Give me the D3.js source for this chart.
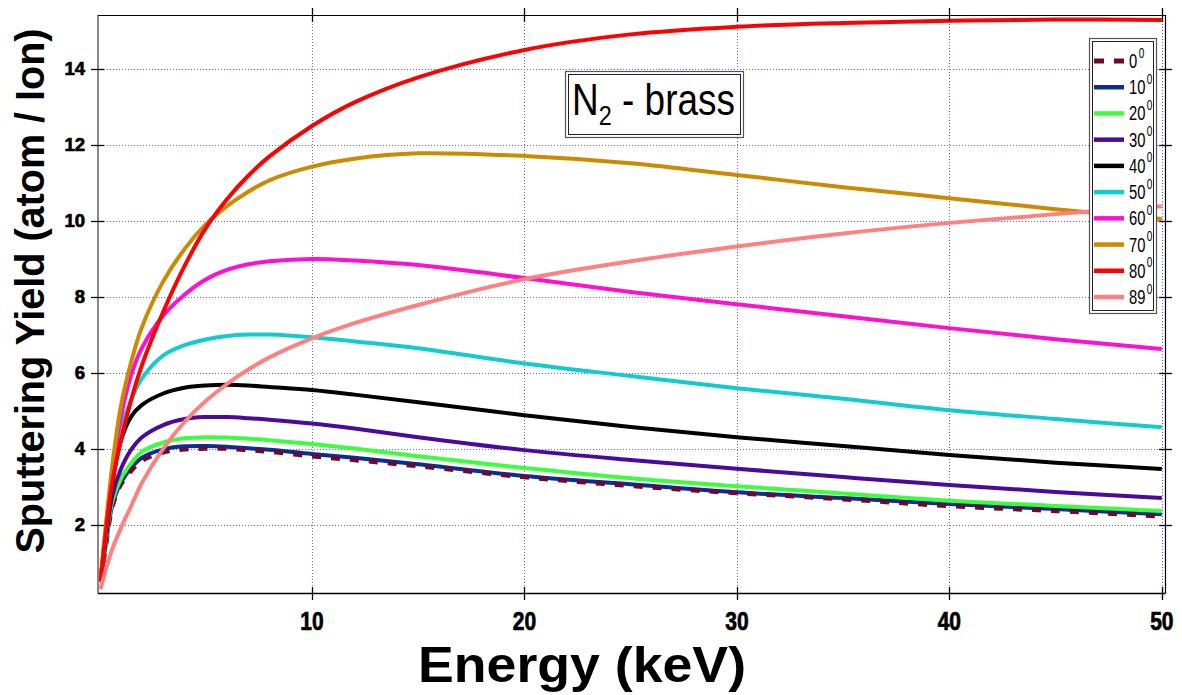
<!DOCTYPE html>
<html>
<head>
<meta charset="utf-8">
<script src="https://cdn.jsdelivr.net/npm/d3@7"></script>
<style>
  body { margin: 0; background: #fff; }
  svg { display: block; font-family: "Liberation Sans", Arial, sans-serif; }
</style>
</head>
<body>
<svg id="chart" width="1182" height="695"></svg>
<script>
// Ion energy (keV) sample points shared by every curve
const energy = [0.05, 0.3, 0.6, 1, 1.5, 2, 3, 4, 5, 6, 7, 8, 10, 12, 15, 20, 25, 30, 35, 40, 45, 50];

// Sputtering yield (atom / ion) for each angle of incidence
const yield0  = [0.50, 1.45, 2.45, 3.05, 3.42, 3.68, 3.90, 3.98, 4.00, 4.00, 3.96, 3.92, 3.80, 3.70, 3.54, 3.25, 3.02, 2.83, 2.67, 2.49, 2.36, 2.22];
const yield10 = [0.52, 1.50, 2.50, 3.10, 3.50, 3.76, 3.98, 4.06, 4.07, 4.05, 4.01, 3.97, 3.86, 3.76, 3.59, 3.28, 3.06, 2.85, 2.70, 2.54, 2.41, 2.27];
const yield20 = [0.55, 1.55, 2.60, 3.20, 3.62, 3.92, 4.16, 4.27, 4.30, 4.29, 4.26, 4.22, 4.12, 4.00, 3.80, 3.49, 3.22, 3.01, 2.82, 2.63, 2.49, 2.36];
const yield30 = [0.55, 1.60, 2.75, 3.45, 3.98, 4.30, 4.62, 4.78, 4.83, 4.83, 4.80, 4.76, 4.66, 4.53, 4.30, 3.96, 3.70, 3.47, 3.25, 3.04, 2.86, 2.70];
const yield40 = [0.55, 1.70, 3.05, 4.20, 4.85, 5.15, 5.45, 5.60, 5.66, 5.68, 5.66, 5.62, 5.54, 5.42, 5.22, 4.88, 4.57, 4.30, 4.07, 3.83, 3.63, 3.46];
const yield50 = [0.55, 1.80, 3.30, 4.50, 5.30, 5.85, 6.45, 6.72, 6.87, 6.96, 7.00, 7.00, 6.93, 6.82, 6.64, 6.24, 5.91, 5.59, 5.31, 5.01, 4.78, 4.56];
const yield60 = [0.55, 1.90, 3.40, 4.80, 5.95, 6.65, 7.50, 8.05, 8.45, 8.70, 8.85, 8.93, 8.99, 8.95, 8.83, 8.49, 8.12, 7.80, 7.48, 7.17, 6.88, 6.62];
const yield70 = [0.55, 2.00, 3.55, 5.10, 6.30, 7.20, 8.40, 9.25, 9.90, 10.38, 10.76, 11.06, 11.42, 11.63, 11.77, 11.70, 11.51, 11.20, 10.88, 10.59, 10.30, 10.04];
const yield80 = [0.50, 1.80, 3.10, 4.20, 5.30, 6.20, 7.60, 8.80, 9.80, 10.56, 11.18, 11.69, 12.49, 13.11, 13.77, 14.49, 14.90, 15.10, 15.20, 15.26, 15.29, 15.28];
const yield89 = [0.30, 0.82, 1.35, 1.90, 2.50, 3.10, 4.00, 4.70, 5.25, 5.70, 6.08, 6.40, 6.90, 7.30, 7.78, 8.46, 8.93, 9.32, 9.66, 9.94, 10.17, 10.38];

const angles = [0, 10, 20, 30, 40, 50, 60, 70, 80, 89];
const yields = [yield0, yield10, yield20, yield30, yield40, yield50, yield60, yield70, yield80, yield89];
const colors = ["#6a0a32", "#0a2d96", "#3cff3c", "#4a0a9c", "#000000", "#11cccc", "#ff10d0", "#cc8a00", "#ff0000", "#ff8080"];

const xTicks = [10, 20, 30, 40, 50];
const yTicks = [2, 4, 6, 8, 10, 12, 14];

const titleMain = "N";
const titleSub = "2";
const titleRest = " - brass";
const xTitle = "Energy (keV)";
const yTitle = "Sputtering Yield (atom / Ion)";

// ---- layout ----
const plot = { left: 98, right: 1165, top: 15, bottom: 593 };
const svg = d3.select("#chart");

const x = d3.scaleLinear().domain([-0.07, 50.15]).range([plot.left, plot.right]);
const y = d3.scaleLinear().domain([0.2, 15.41]).range([plot.bottom, plot.top]);

// ---- grid ----
const grid = svg.append("g").attr("stroke", "#5050ff").attr("stroke-width", 1)
  .attr("stroke-dasharray", "1,2").attr("opacity", 0.9);
grid.selectAll("line.v").data(xTicks).join("line").attr("class", "v")
  .attr("x1", d => Math.round(x(d)) + 0.5).attr("x2", d => Math.round(x(d)) + 0.5)
  .attr("y1", plot.top).attr("y2", plot.bottom);
grid.selectAll("line.h").data(yTicks).join("line").attr("class", "h")
  .attr("y1", d => Math.round(y(d)) + 0.5).attr("y2", d => Math.round(y(d)) + 0.5)
  .attr("x1", plot.left).attr("x2", plot.right);

// ---- curves ----
svg.append("clipPath").attr("id", "plotClip").append("rect")
  .attr("x", plot.left).attr("y", plot.top)
  .attr("width", plot.right - plot.left).attr("height", plot.bottom - plot.top);

const series = angles.map((a, i) => ({
  angle: a,
  color: colors[i],
  dashed: a === 0,
  points: energy.map((e, j) => [e, yields[i][j]])
}));

// the dashed normal-incidence curve sits just above the 10° curve
const drawOrder = [1, 0, 2, 3, 4, 5, 6, 7, 8, 9].map(i => series[i]);

const line = d3.line().x(d => x(d[0])).y(d => y(d[1])).curve(d3.curveCatmullRom.alpha(0.5));

svg.append("g").attr("clip-path", "url(#plotClip)")
  .selectAll("path").data(drawOrder).join("path")
  .attr("d", d => line(d.points))
  .attr("fill", "none")
  .attr("stroke", d => d.color)
  .attr("stroke-width", d => d.dashed ? 4.5 : 4)
  .attr("stroke-dasharray", d => d.dashed ? "9,10" : null);

// ---- frame ----
const frame = svg.append("g");
frame.append("line").attr("x1", plot.left).attr("x2", plot.left).attr("y1", plot.top).attr("y2", plot.bottom + 0.5)
  .attr("stroke", "#888").attr("stroke-width", 2);
frame.append("line").attr("x1", plot.left).attr("x2", plot.right + 0.5).attr("y1", plot.top + 0.5).attr("y2", plot.top + 0.5)
  .attr("stroke", "#000").attr("stroke-width", 1.2);
frame.append("line").attr("x1", plot.left).attr("x2", plot.right + 0.5).attr("y1", plot.bottom + 0.5).attr("y2", plot.bottom + 0.5)
  .attr("stroke", "#000").attr("stroke-width", 1.5);
frame.append("line").attr("x1", plot.right + 0.5).attr("x2", plot.right + 0.5).attr("y1", plot.top).attr("y2", plot.bottom + 0.5)
  .attr("stroke", "#000").attr("stroke-width", 1.2);

// tick marks crossing all four spines
const tickLen = 7;
const ticks = svg.append("g").attr("stroke", "#000").attr("stroke-width", 1.3);
xTicks.forEach(t => {
  const px = Math.round(x(t)) + 0.5;
  ticks.append("line").attr("x1", px).attr("x2", px).attr("y1", plot.bottom - 6).attr("y2", plot.bottom + tickLen);
  ticks.append("line").attr("x1", px).attr("x2", px).attr("y1", plot.top - tickLen).attr("y2", plot.top + 7);
});
yTicks.forEach(t => {
  const py = Math.round(y(t)) + 0.5;
  ticks.append("line").attr("x1", plot.left - tickLen).attr("x2", plot.left + 6).attr("y1", py).attr("y2", py);
  ticks.append("line").attr("x1", plot.right - 6).attr("x2", plot.right + tickLen).attr("y1", py).attr("y2", py);
});

// ---- tick labels ----
svg.append("g").selectAll("g").data(xTicks).join("g")
  .attr("transform", d => `translate(${x(d)},630) scale(0.84,1)`)
  .append("text").attr("text-anchor", "middle")
  .attr("font-size", 25).attr("font-weight", "bold")
  .attr("stroke", "#000").attr("stroke-width", 0.7)
  .text(d => d);

svg.append("g").selectAll("text").data(yTicks).join("text")
  .attr("x", 85).attr("y", d => y(d) + 6.5)
  .attr("text-anchor", "end")
  .attr("font-size", 18.5).attr("font-weight", "bold")
  .attr("stroke", "#000").attr("stroke-width", 0.7)
  .text(d => d);

// ---- axis titles ----
svg.append("text").attr("x", 582).attr("y", 682)
  .attr("text-anchor", "middle").attr("font-size", 50).attr("font-weight", "bold")
  .attr("textLength", 328).attr("lengthAdjust", "spacingAndGlyphs")
  .text(xTitle);

svg.append("text")
  .attr("transform", "translate(44,291) rotate(-90)")
  .attr("text-anchor", "middle").attr("font-size", 40).attr("font-weight", "bold")
  .attr("textLength", 525).attr("lengthAdjust", "spacingAndGlyphs")
  .text(yTitle);

// ---- title box ----
const tb = { x0: 565, y0: 71, x1: 743, y1: 137 };
svg.append("rect").attr("x", tb.x0 + 0.5).attr("y", tb.y0 + 0.5)
  .attr("width", tb.x1 - tb.x0).attr("height", tb.y1 - tb.y0)
  .attr("fill", "#fff").attr("stroke", "#555").attr("stroke-width", 1.2);
svg.append("rect").attr("x", tb.x0 + 3.5).attr("y", tb.y0 + 3.5)
  .attr("width", tb.x1 - tb.x0 - 6).attr("height", tb.y1 - tb.y0 - 6)
  .attr("fill", "none").attr("stroke", "#222").attr("stroke-width", 1);
const titleG = svg.append("g");
const title = titleG.append("text").attr("font-size", 44).attr("text-anchor", "start");
title.append("tspan").text(titleMain);
title.append("tspan").attr("font-size", 28).attr("dy", 10).text(titleSub);
title.append("tspan").attr("dy", -10).text(titleRest);
{
  const bb = title.node().getBBox();
  const sx = 163 / bb.width;
  titleG.attr("transform", `translate(572,115) scale(${sx},1) translate(${-bb.x},0)`);
}

// ---- legend ----
const lg = { x0: 1089, y0: 38, x1: 1156, y1: 313 };
svg.append("rect").attr("x", lg.x0 + 0.5).attr("y", lg.y0 + 0.5)
  .attr("width", lg.x1 - lg.x0).attr("height", lg.y1 - lg.y0)
  .attr("fill", "#fff").attr("stroke", "#555").attr("stroke-width", 1.2);
svg.append("rect").attr("x", lg.x0 + 3.5).attr("y", lg.y0 + 3.5)
  .attr("width", lg.x1 - lg.x0 - 6).attr("height", lg.y1 - lg.y0 - 6)
  .attr("fill", "none").attr("stroke", "#222").attr("stroke-width", 1);

const rowY = d3.scalePoint().domain(angles).range([61, 297]);
const rows = svg.append("g").selectAll("g").data(series).join("g")
  .attr("transform", d => `translate(0,${rowY(d.angle)})`);
rows.append("line")
  .attr("x1", 1094).attr("x2", 1124).attr("y1", 0).attr("y2", 0)
  .attr("stroke", d => d.color)
  .attr("stroke-width", d => d.dashed ? 5 : 4.5)
  .attr("stroke-dasharray", d => d.dashed ? "10,10" : null);
const lbl = rows.append("g").attr("transform", "translate(1129,7) scale(0.72,1)")
  .append("text").attr("font-size", 20.5);
lbl.append("tspan").text(d => d.angle);
lbl.append("tspan").attr("font-size", 14).attr("dx", 2).attr("dy", -10.5).text("0");
</script>
</body>
</html>
